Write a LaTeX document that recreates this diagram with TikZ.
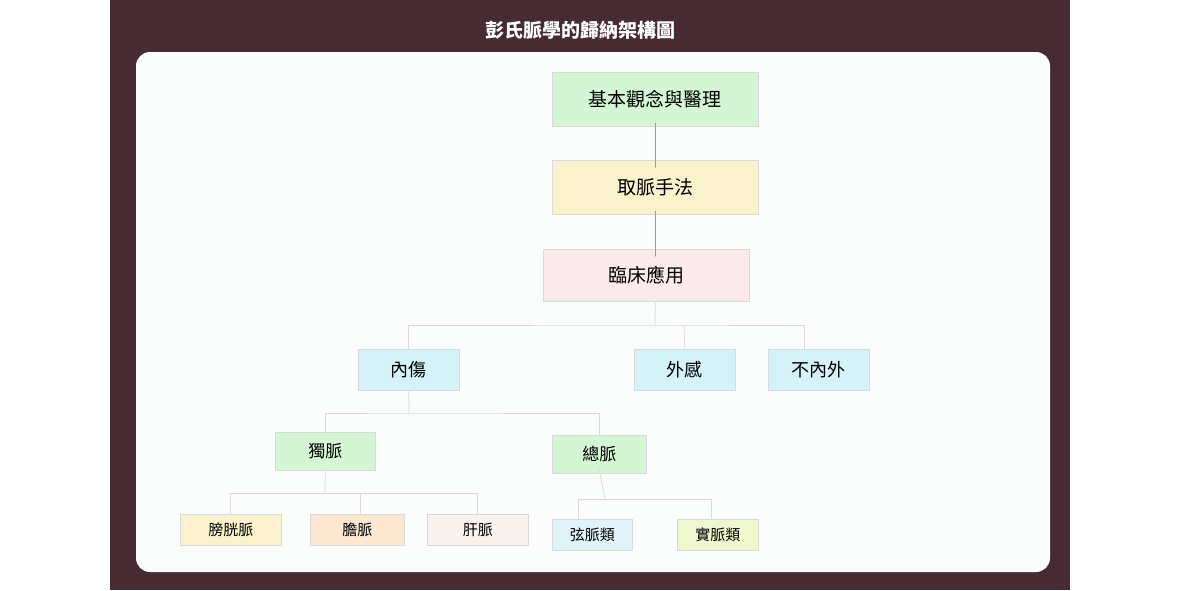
\documentclass[tikz,border=0pt]{standalone}
\usepackage{fontspec}
\setmainfont{Noto Sans CJK TC}
\usetikzlibrary{arrows.meta}
\begin{document}
\begin{tikzpicture}[x=1pt,y=-1pt,
 bx/.style={draw=black!15,line width=0.6pt,anchor=north west,inner sep=0pt,font=\fontsize{#1}{#1}\selectfont},
 ln/.style={draw=black!15,line width=0.8pt}]
\useasboundingbox (0,0) rectangle (1180,590);
\fill[fill={rgb,255:red,70;green,44;blue,50}] (110,0) rectangle (1070,590);
\fill[fill={rgb,255:red,250;green,253;blue,252},rounded corners=14pt] (136,52) rectangle (1050,572);
\node[text=white,font=\bfseries\fontsize{19}{19}\selectfont] (title) at (580,30) {彭氏脈學的歸納架構圖};
\definecolor{cg}{RGB}{213,246,213}
\definecolor{cy}{RGB}{249,242,204}
\definecolor{cp}{RGB}{250,234,236}
\definecolor{cc}{RGB}{212,242,248}
\definecolor{cpe}{RGB}{252,231,208}
\definecolor{cw}{RGB}{249,242,238}
\definecolor{clc}{RGB}{224,243,249}
\definecolor{cly}{RGB}{239,247,206}
\newcommand{\bxn}[8]{\node[bx=#8,fill=#7,minimum width=#4-#2,minimum height=#5-#3] (#1) at (#2,#3) {#6};}
\bxn{a}{552}{72}{758}{126}{基本觀念與醫理}{cg}{19}
\bxn{b}{552}{160}{758}{214}{取脈手法}{cy}{19}
\bxn{c}{543}{249}{749}{301}{臨床應用}{cp}{19}
\bxn{n1}{358}{349}{459}{390}{內傷}{cc}{18}
\bxn{n2}{634}{349}{735}{390}{外感}{cc}{18}
\bxn{n3}{768}{349}{869}{390}{不內外}{cc}{18}
\bxn{d1}{275}{432}{375}{470}{獨脈}{cg}{17}
\bxn{d2}{552}{435}{646}{473}{總脈}{cg}{17}
\bxn{e1}{180}{514}{281}{545}{膀胱脈}{cy}{15}
\bxn{e2}{310}{514}{404}{545}{膽脈}{cpe}{15}
\bxn{e3}{427}{514}{528}{545}{肝脈}{cw}{15}
\bxn{f1}{552}{519}{632}{550}{弦脈類}{clc}{15}
\bxn{f2}{677}{519}{758}{550}{實脈類}{cly}{15}
\draw[draw=black!40,line width=0.3pt,-{Latex[length=2pt]}] ([yshift=4]a.south) -- ([yshift=-8]b.north);
\draw[draw=black!40,line width=0.3pt,-{Latex[length=2pt]}] ([yshift=4]b.south) -- ([yshift=-8]c.north -| b.south);
\draw[ln] (c.south -| a.south) -- (655,325);
\draw[ln] (n1.north) |- (655,325) -| (804,349);
\draw[ln] (n2.north) -- (684,325);
\draw[ln] (n1.south) -- (409,413);
\draw[ln] (d1.north) |- (409,413) -| (d2.north);
\draw[ln] (d1.south) -- (325,493);
\draw[ln] (e1.north) |- (325,493) -| (e3.north);
\draw[ln] (360,493) -- (360,514);
\draw[ln] ([yshift=4]d2.south) -- (605,499);
\draw[ln] (578,519) |- (605,499) -| (711,519);
\end{tikzpicture}
\end{document}
